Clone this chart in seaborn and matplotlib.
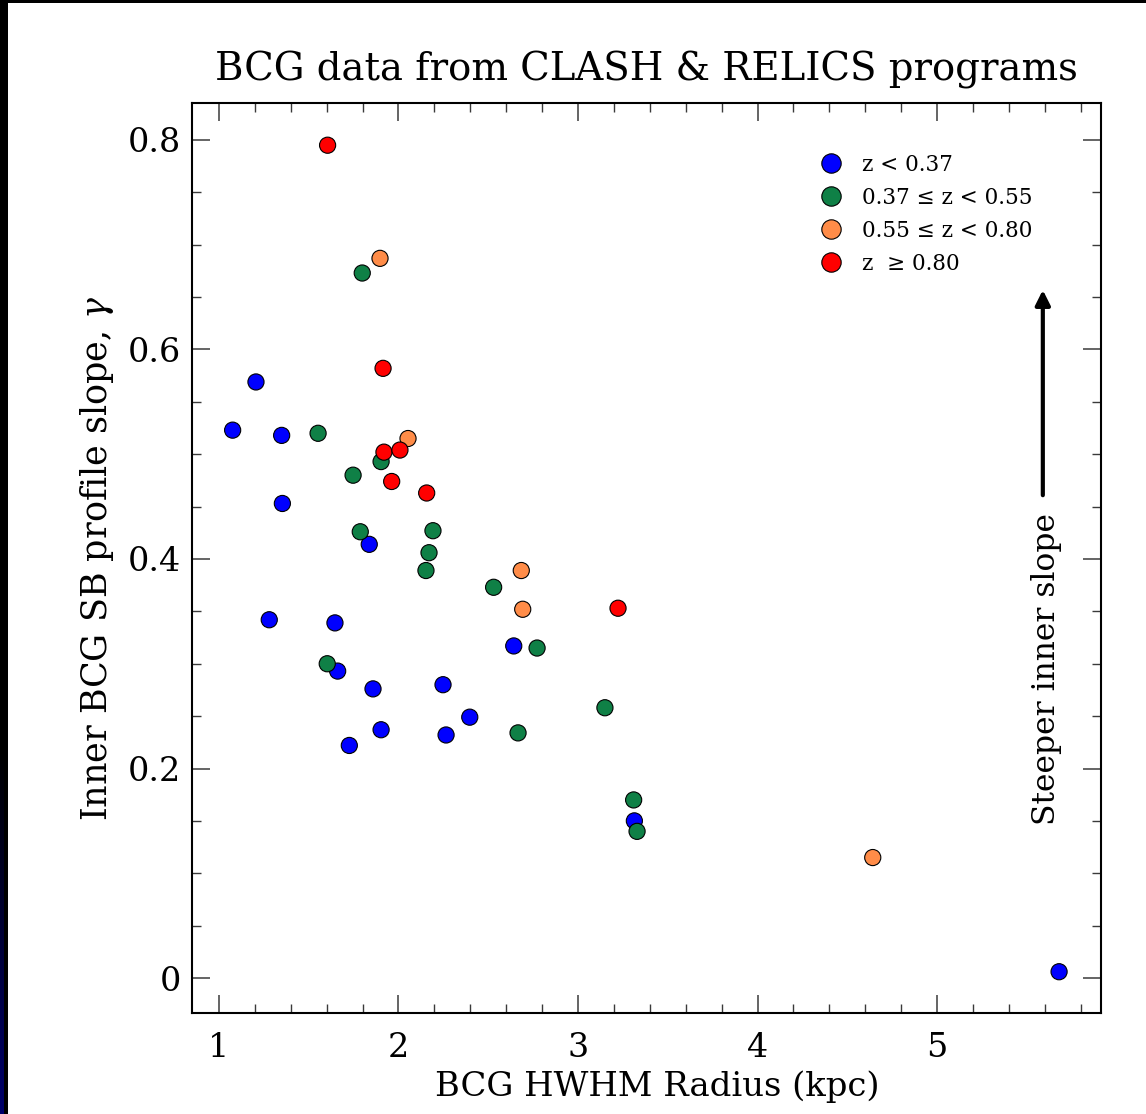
import numpy as np
import pandas as pd
import matplotlib
matplotlib.use("Agg")
import matplotlib.pyplot as plt
import seaborn as sns
from matplotlib.ticker import MultipleLocator, FuncFormatter
from matplotlib.patches import Rectangle

# Redshift bins and their marker colours
z_bins = ["z < 0.37", "0.37 \u2264 z < 0.55", "0.55 \u2264 z < 0.80", "z  \u2265 0.80"]
bin_colors = ["#0000ff", "#0f8046", "#ff8c48", "#ff0000"]

# BCG HWHM radius (kpc) and inner surface-brightness slope per redshift bin
low_z_radius = [1.076, 1.206, 1.349, 1.353, 1.280, 1.646, 1.661, 1.837, 1.858,
                1.726, 1.903, 2.248, 2.265, 2.397, 2.642, 3.314, 5.680]
low_z_gamma = [0.523, 0.569, 0.518, 0.453, 0.342, 0.339, 0.293, 0.414, 0.276,
               0.222, 0.237, 0.280, 0.232, 0.249, 0.317, 0.150, 0.006]

mid_z_radius = [1.798, 1.552, 1.747, 1.903, 1.787, 2.192, 2.170, 2.153, 2.530,
                2.772, 1.603, 2.666, 3.150, 3.310, 3.329]
mid_z_gamma = [0.673, 0.520, 0.480, 0.493, 0.426, 0.427, 0.406, 0.389, 0.373,
               0.315, 0.300, 0.234, 0.258, 0.170, 0.140]

high_z_radius = [1.897, 2.053, 2.684, 2.692, 4.642]
high_z_gamma = [0.687, 0.515, 0.389, 0.352, 0.115]

vhigh_z_radius = [1.605, 1.914, 1.919, 2.008, 1.962, 2.157, 3.223]
vhigh_z_gamma = [0.795, 0.582, 0.502, 0.504, 0.474, 0.463, 0.353]

sns.set_theme(style="ticks")
plt.rcParams["font.family"] = ["DejaVu Serif"]
plt.rcParams["mathtext.fontset"] = "dejavuserif"
plt.rcParams["text.color"] = "black"
plt.rcParams["axes.labelcolor"] = "black"

groups = [(low_z_radius, low_z_gamma), (mid_z_radius, mid_z_gamma),
          (high_z_radius, high_z_gamma), (vhigh_z_radius, vhigh_z_gamma)]
df = pd.concat(
    [pd.DataFrame({"radius": r, "gamma": g, "bin": name})
     for (r, g), name in zip(groups, z_bins)],
    ignore_index=True,
)

W, H = 1146, 1114
fig = plt.figure(figsize=(W / 100, H / 100), dpi=100)
fig.patch.set_facecolor("white")

ax = fig.add_axes([192 / W, 1 - 1013 / H, 909 / W, 910 / H])
sns.scatterplot(
    data=df, x="radius", y="gamma", hue="bin", hue_order=z_bins,
    palette=dict(zip(z_bins, bin_colors)), s=135, edgecolor="black",
    linewidth=0.8, alpha=1, ax=ax, zorder=3,
)

ax.set_xlim(0.8496, 5.9136)
ax.set_ylim(-0.0334, 0.8353)
ax.xaxis.set_major_locator(MultipleLocator(1))
ax.xaxis.set_minor_locator(MultipleLocator(0.2))
ax.yaxis.set_major_locator(MultipleLocator(0.2))
ax.yaxis.set_minor_locator(MultipleLocator(0.05))
fmt = FuncFormatter(lambda v, _: f"{v:g}")
ax.xaxis.set_major_formatter(fmt)
ax.yaxis.set_major_formatter(fmt)

ax.tick_params(which="both", direction="in", top=True, right=True,
               color="#3a3a3a", labelcolor="black", labelsize=24)
ax.tick_params(which="major", length=13, width=1.1)
ax.tick_params(which="minor", length=6.5, width=1.0)
ax.tick_params(axis="x", which="major", pad=14)
ax.tick_params(axis="y", which="major", pad=8)
for sp in ax.spines.values():
    sp.set_visible(True)
    sp.set_color("black")
    sp.set_linewidth(1.5)

ax.set_xlabel("BCG HWHM Radius (kpc)", fontsize=24.4)
ax.set_ylabel(r"Inner BCG SB profile slope, $\gamma$", fontsize=25.2)
ax.xaxis.set_label_coords(0.512, -0.063)
ax.yaxis.set_label_coords(-0.084, 0.5)
ax.set_title("BCG data from CLASH & RELICS programs", fontsize=27.8, pad=16,
             color="black")

handles, labels = ax.get_legend_handles_labels()
leg = ax.legend(handles, labels, loc="upper left", bbox_to_anchor=(0.691, 0.944),
                frameon=False, fontsize=15.5, borderaxespad=0, borderpad=0,
                handlelength=1.0, handletextpad=0.94, labelspacing=0.51,
                markerscale=1.2)
for t in leg.get_texts():
    t.set_color("black")

# Direction marker on the right-hand side
ax.annotate("", xy=(0.936, 0.7945), xytext=(0.936, 0.569),
            xycoords="axes fraction", textcoords="axes fraction",
            arrowprops=dict(arrowstyle="-|>", lw=3, color="black",
                            mutation_scale=22, shrinkA=0, shrinkB=0))
ax.text(0.9395, 0.378, "Steeper inner slope", transform=ax.transAxes,
        rotation=90, ha="center", va="center", fontsize=22.6)

# Dark frame strips along the top and left edges
fig.patches.append(Rectangle((0, 1 - 3 / H), 1, 3 / H, transform=fig.transFigure,
                             facecolor="black", edgecolor="none", zorder=10))
strip = np.zeros((H, 8, 3))
rows = np.arange(H)
ramp = np.clip((rows - 750) / (H - 750), 0, 1) * 0.42
strip[:, :4, 2] = ramp[:, None]
edge_ax = fig.add_axes([0, 0, 8 / W, 1])
edge_ax.imshow(strip, aspect="auto", interpolation="nearest")
edge_ax.set_axis_off()

fig.savefig("out.png", dpi=100)
